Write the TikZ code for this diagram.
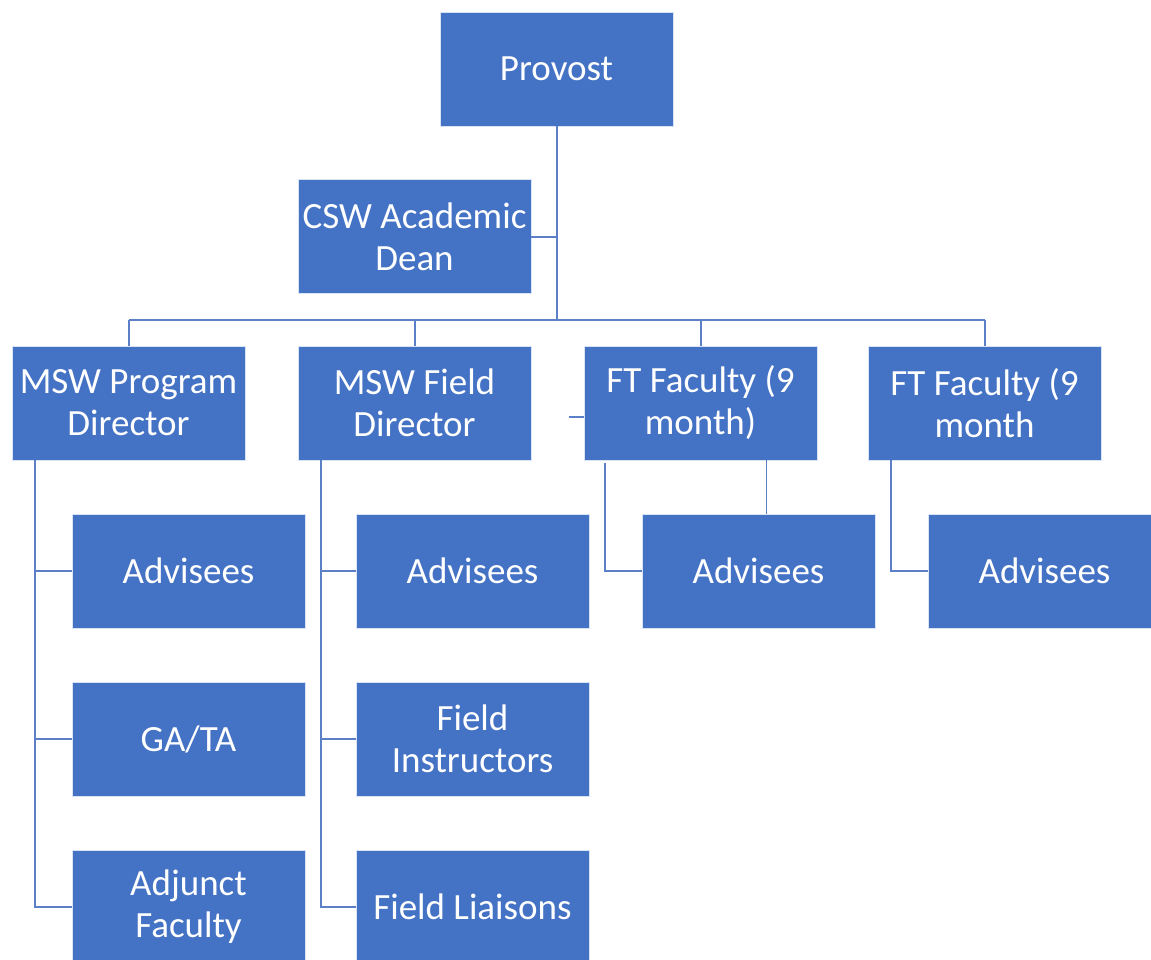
\documentclass[tikz,border=0pt]{standalone}
\usepackage{fontspec}
\setmainfont{Carlito}
\usetikzlibrary{calc}
\definecolor{boxblue}{HTML}{4472C4}
\definecolor{lineblue}{HTML}{5B80C8}
\begin{document}
\begin{tikzpicture}[x=1pt,y=-1pt,
  box/.style={rectangle,fill=boxblue,draw=white!80!boxblue,line width=0.8pt,
    minimum width=233pt,minimum height=114pt,inner sep=0pt,text=white,
    align=center,font=\fontsize{37}{42}\selectfont},
  conn/.style={draw=lineblue,line width=2pt}]
\useasboundingbox (0,0) rectangle (1151,960);
\clip (0,0) rectangle (1151,960);
\node[box] (provost) at (556.5,69) {Provost};
\node[box] (csw) at (414.5,236.5) {CSW Academic\\Dean};
\node[box] (prog) at (128.5,403) {MSW Program\\Director};
\node[box] (field) at (414.5,403) {MSW Field\\Director};
\node[box] (ft1) at (700.5,403) {FT Faculty (9\\month)};
\node[box] (ft2) at (984.5,403) {FT Faculty (9\\month};
\node[box] (padv) at (188.5,571) {Advisees};
\node[box] (gata) at (188.5,739) {GA/TA};
\node[box] (adj) at (188.5,907) {Adjunct\\Faculty};
\node[box] (fadv) at (472.5,571) {Advisees};
\node[box] (finst) at (472.5,739) {Field\\Instructors};
\node[box] (flia) at (472.5,907) {Field Liaisons};
\node[box] (t1adv) at (758.5,571) {Advisees};
\node[box] (t2adv) at (1044.5,571) {Advisees};
\coordinate (busL) at (128.5,320);
\coordinate (busR) at (984.5,320);
\coordinate (pv) at ($(prog.south west)+(23,0)$);
\coordinate (fv) at ($(field.south west)+(23,0)$);
\coordinate (t1v) at ($(ft1.south west)+(21,3)$);
\coordinate (t2v) at ($(ft2.south west)+(23,0)$);
\draw[conn] (provost.south) -- (provost.south |- busL);
\draw[conn] (csw.east) -- (csw.east -| provost.south);
\draw[conn] (busL) -- (busR);
\foreach \n in {prog,field,ft1,ft2} \draw[conn] (\n.north) -- (\n.north |- busL);
\foreach \n in {padv,gata,adj} \draw[conn] (pv) |- (\n.west);
\foreach \n in {fadv,finst,flia} \draw[conn] (fv) |- (\n.west);
\draw[conn] (t1v) |- (t1adv.west);
\draw[conn] (t2v) |- (t2adv.west);
\draw[conn,line width=1.3pt] ($(ft1.south west)+(183,0)$) -- ($(t1adv.north west)+(125,0)$);
\draw[conn,line width=1.3pt] ([yshift=-14pt]ft1.west) -- ++(-15,0);
\end{tikzpicture}
\end{document}
